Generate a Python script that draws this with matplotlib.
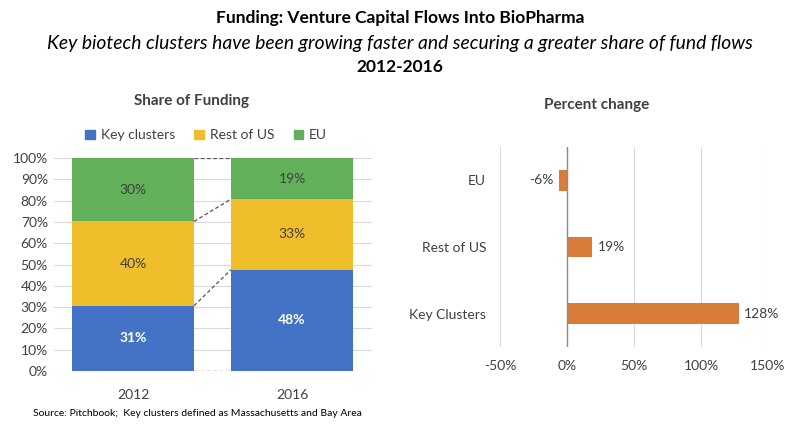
import matplotlib
matplotlib.use("Agg")
import matplotlib.pyplot as plt
from matplotlib.patches import Patch

plt.rcParams['font.family'] = ['Lato', 'DejaVu Sans']

# ---- data ----
years = ["2012", "2016"]
key_clusters = [30.6, 47.6]
rest_of_us = [39.6, 33.1]
eu = [29.8, 19.3]
share_labels_key = ["31%", "48%"]
share_labels_rest = ["40%", "33%"]
share_labels_eu = ["30%", "19%"]

change_cats = ["Key Clusters", "Rest of US", "EU"]
change_vals = [128, 19, -6]
change_labels = ["128%", "19%", "-6%"]

xticks_pct = [-50, 0, 50, 100, 150]
yticks_pct = list(range(0, 101, 10))

BLUE = "#4472C4"
YELLOW = "#F0BE2B"
GREEN = "#62B05A"
ORANGE = "#D97C3A"
TXT = "#404040"
GRID = "#D9D9D9"

fig = plt.figure(figsize=(8, 4.3), dpi=100)

fig.text(0.5, 1 - 18/430, "Funding: Venture Capital Flows Into BioPharma",
         ha="center", va="center", fontsize=12.5, fontweight="bold", color="black")
fig.text(0.5, 1 - 43/430,
         "Key biotech clusters have been growing faster and securing a greater share of fund flows",
         ha="center", va="center", fontsize=13.9, fontstyle="italic", color="black")
fig.text(0.5, 1 - 67/430, "2012-2016",
         ha="center", va="center", fontsize=12.5, fontweight="bold", color="black")

# ---- left: stacked share ----
ax1 = fig.add_axes([53.5/800, (430-371)/430, 318/800, 213/430])
x = [0, 1]
w = 0.767
ax1.bar(x, key_clusters, w, color=BLUE, zorder=3)
ax1.bar(x, rest_of_us, w, bottom=key_clusters, color=YELLOW, zorder=3)
bot3 = [a + b for a, b in zip(key_clusters, rest_of_us)]
ax1.bar(x, eu, w, bottom=bot3, color=GREEN, zorder=3)

# series lines
tops = [[0, 0], key_clusters, bot3, [a + b for a, b in zip(bot3, eu)]]
for t in tops:
    ax1.plot([x[0] + w/2, x[1] - w/2], t, ls=(0, (3, 2)), color="#555555", lw=0.9, zorder=4)

for i in range(2):
    ax1.text(x[i], key_clusters[i]/2, share_labels_key[i], ha="center", va="center",
             color="white", fontsize=10, fontweight="bold", zorder=5)
    ax1.text(x[i], key_clusters[i] + rest_of_us[i]/2, share_labels_rest[i], ha="center",
             va="center", color=TXT, fontsize=10, zorder=5)
    ax1.text(x[i], bot3[i] + eu[i]/2, share_labels_eu[i], ha="center", va="center",
             color=TXT, fontsize=10, zorder=5)

ax1.set_xlim(-0.5, 1.5)
ax1.set_ylim(0, 100)
ax1.set_yticks(yticks_pct)
ax1.set_yticklabels([f"{v}%" for v in yticks_pct])
ax1.set_xticks(x)
ax1.set_xticklabels(years)
ax1.yaxis.grid(True, color=GRID, lw=0.8, zorder=0)
for s in ax1.spines.values():
    s.set_visible(False)
ax1.tick_params(length=0, labelsize=10, colors=TXT, pad=4)
ax1.tick_params(axis="x", pad=13)
fig.text(192/800, 1 - 101/430, "Share of Funding", ha="center", va="center",
         fontsize=11, fontweight="bold", color=TXT)
ax1.legend(handles=[Patch(color=BLUE, label="Key clusters"),
                    Patch(color=YELLOW, label="Rest of US"),
                    Patch(color=GREEN, label="EU")],
           loc="lower center", bbox_to_anchor=(0.48, 1.02), ncol=3, frameon=False,
           fontsize=10, handlelength=0.7, handleheight=0.7, handletextpad=0.4,
           columnspacing=1.4, labelcolor=TXT)

# ---- right: percent change ----
ax2 = fig.add_axes([500/800, (430-347)/430, 268/800, 200/430])
y = [0, 1, 2]
ax2.barh(y, change_vals, height=0.31, color=ORANGE, zorder=3)
for yi, v, lab in zip(y, change_vals, change_labels):
    if v >= 0:
        ax2.text(v + 4, yi, lab, ha="left", va="center", fontsize=10, color=TXT)
    else:
        ax2.text(v - 4, yi, lab, ha="right", va="center", fontsize=10, color=TXT)
ax2.axvline(0, color="#8C8C8C", lw=1, zorder=4)
ax2.set_xlim(-50, 150)
ax2.set_ylim(-0.5, 2.5)
ax2.set_xticks(xticks_pct)
ax2.set_xticklabels([f"{v}%" for v in xticks_pct])
ax2.set_yticks(y)
ax2.set_yticklabels(change_cats)
ax2.xaxis.grid(True, color=GRID, lw=0.8, zorder=0)
for s in ax2.spines.values():
    s.set_visible(False)
ax2.tick_params(length=0, labelsize=10, colors=TXT)
ax2.tick_params(axis="x", pad=9)
ax2.tick_params(axis="y", pad=10)
fig.text(597/800, 1 - 105/430, "Percent change", ha="center", va="center",
         fontsize=11, fontweight="bold", color=TXT)

fig.text(33/800, 1 - 413/430,
         "Source: Pitchbook;  Key clusters defined as Massachusetts and Bay Area",
         ha="left", va="center", fontsize=7.5, color="black")

fig.savefig("out.png", dpi=100)
